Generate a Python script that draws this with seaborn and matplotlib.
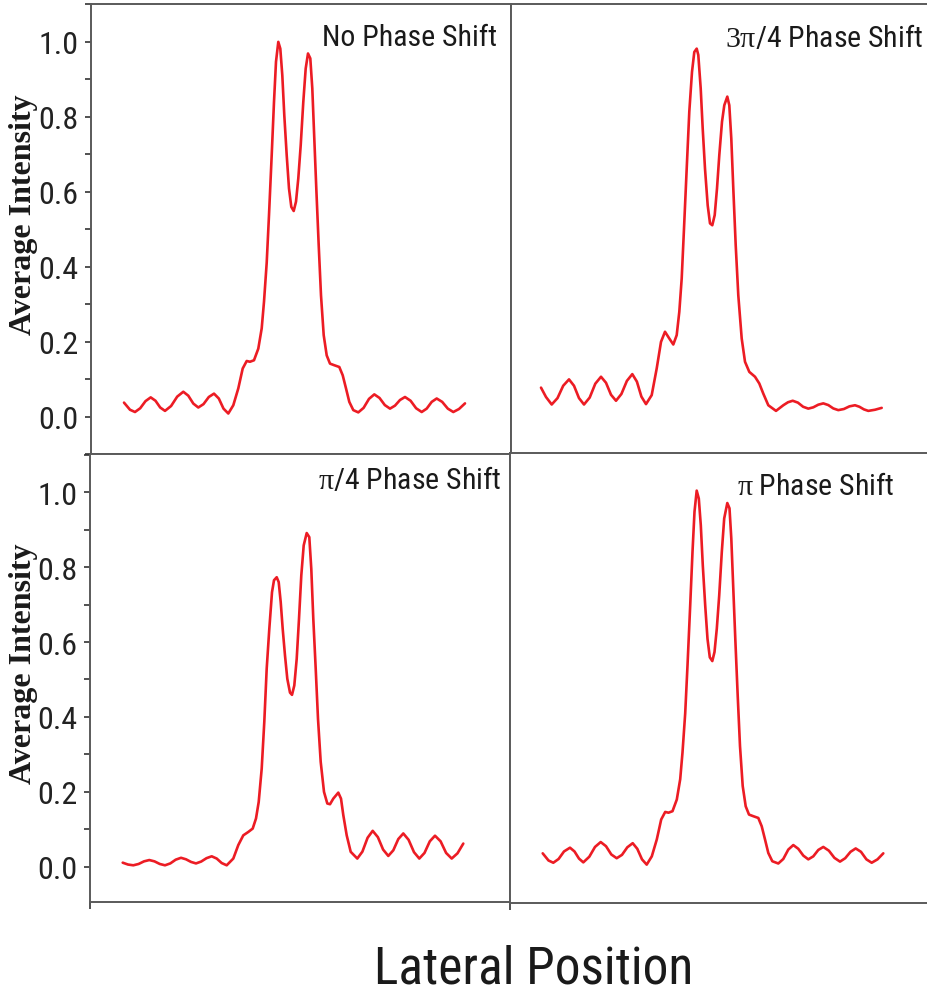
import matplotlib
matplotlib.use("Agg")
import matplotlib.pyplot as plt
from matplotlib import font_manager
from matplotlib.ticker import FixedLocator, FormatStrFormatter
import seaborn as sns
import pandas as pd

# ---------------- data ----------------
no_shift_x = [33, 39, 44, 49.2, 54.5, 59.7, 64.5, 69.2, 74, 80.1, 86.2, 92.3, 97.3, 102.3, 107.3,
              112.5, 117.8, 123, 127.8, 132.5, 137.3, 142.3, 147.3, 151.7, 155.7, 159, 163, 167.3,
              170.7, 173, 175.7, 178, 180.7, 183, 185, 187.3, 189.3, 191.3, 193.3, 195.7, 198, 200.3,
              202.7, 205, 207.3, 209.7, 212.3, 214.7, 217, 219.3, 221.3, 223.3, 225.3, 227.7, 230,
              232.7, 235.7, 239, 243, 248.3, 251.7, 255, 258.3, 262.3, 267.3, 272.6, 278, 283.3,
              288.5, 293.8, 299, 304, 309, 314, 319.6, 325.1, 330.7, 335.7, 340.7, 345.7, 351.2,
              356.8, 362.3, 368, 374]
no_shift_y = [0.037, 0.018, 0.012, 0.022, 0.041, 0.051, 0.042, 0.024, 0.015, 0.028, 0.053, 0.066,
              0.0555, 0.0345, 0.024, 0.033, 0.052, 0.061, 0.048, 0.021, 0.008, 0.030, 0.075, 0.128,
              0.148, 0.146, 0.150, 0.181, 0.235, 0.306, 0.41, 0.537, 0.697, 0.839, 0.946, 0.999,
              0.981, 0.910, 0.803, 0.697, 0.608, 0.559, 0.548, 0.573, 0.635, 0.723, 0.839, 0.928,
              0.968, 0.955, 0.875, 0.741, 0.608, 0.457, 0.323, 0.217, 0.163, 0.141, 0.137, 0.132,
              0.110, 0.075, 0.039, 0.017, 0.011, 0.023, 0.047, 0.059, 0.0495, 0.0305, 0.021, 0.029,
              0.044, 0.052, 0.042, 0.022, 0.012, 0.021, 0.039, 0.048, 0.039, 0.021, 0.012, 0.020,
              0.035]

three_quarter_x = [29.5, 34.5, 40.2, 46, 51.7, 57.5, 62.5, 67.5, 72.5, 78.2, 83.8, 89.5, 94.5, 99.5,
                   104.5, 109.9, 115.4, 120.8, 125.4, 129.9, 134.5, 140.2, 145.2, 149.5, 153.5,
                   157.8, 161.8, 165.2, 167.8, 170.2, 172.5, 175.2, 177.8, 180.5, 182.8, 185.2,
                   186.8, 189.2, 191.2, 193.5, 196.2, 198.5, 200.8, 203.2, 205.5, 207.8, 210.5,
                   212.8, 215.8, 217.8, 219.8, 221.8, 224.2, 226.8, 230.2, 233.5, 237.8, 243.5,
                   247.8, 251.8, 256.8, 264.5, 271.8, 276.5, 281.2, 286.4, 291.6, 296.8, 301.8,
                   306.8, 311.8, 316.8, 321.8, 326.8, 332.4, 337.9, 343.5, 347.9, 352.4, 356.8,
                   363.5, 370.2]
three_quarter_y = [0.077, 0.052, 0.032, 0.049, 0.082, 0.099, 0.082, 0.049, 0.032, 0.0505, 0.0875,
                   0.106, 0.090, 0.058, 0.042, 0.060, 0.095, 0.113, 0.093, 0.053, 0.033, 0.057,
                   0.128, 0.199, 0.226, 0.208, 0.192, 0.217, 0.279, 0.368, 0.501, 0.661, 0.813,
                   0.919, 0.972, 0.981, 0.964, 0.875, 0.768, 0.661, 0.563, 0.515, 0.510, 0.537,
                   0.608, 0.697, 0.786, 0.830, 0.853, 0.830, 0.741, 0.608, 0.457, 0.323, 0.208,
                   0.146, 0.119, 0.106, 0.088, 0.061, 0.030, 0.015, 0.030, 0.038, 0.042, 0.037,
                   0.026, 0.021, 0.0245, 0.0315, 0.035, 0.0305, 0.0215, 0.017, 0.020, 0.027, 0.030,
                   0.026, 0.019, 0.015, 0.018, 0.023]

quarter_x = [32.7, 38, 43.3, 48.6, 54, 59.3, 64.5, 69.8, 75, 80.3, 85.7, 91, 96, 101, 106, 111.2,
             116.5, 121.7, 126.7, 131.7, 136.7, 143.3, 148.3, 153.3, 158.3, 162.7, 166, 168.7,
             171.7, 174.3, 176.7, 179.3, 182, 184, 186.7, 188.7, 190.7, 192.7, 195, 197.3, 200,
             202, 204.3, 206.7, 209, 211.3, 213.7, 216.7, 219.3, 221.3, 223.3, 225.7, 228, 230.7,
             234, 237.3, 240, 243.3, 248.3, 251, 253.3, 256.7, 260.7, 267.3, 272.4, 277.6, 282.7,
             287.9, 293.1, 298.3, 303.3, 308.3, 313.3, 318.6, 324, 329.3, 334.5, 339.8, 345,
             350.6, 356.1, 361.7, 367.5, 373.3]
quarter_y = [0.011, 0.006, 0.004, 0.0075, 0.0145, 0.018, 0.0145, 0.0075, 0.004, 0.009, 0.019, 0.024,
             0.020, 0.013, 0.009, 0.014, 0.023, 0.028, 0.022, 0.010, 0.004, 0.022, 0.058, 0.084,
             0.093, 0.102, 0.129, 0.173, 0.262, 0.387, 0.529, 0.635, 0.733, 0.765, 0.773, 0.760,
             0.707, 0.635, 0.564, 0.502, 0.465, 0.459, 0.484, 0.555, 0.662, 0.778, 0.858, 0.891,
             0.880, 0.795, 0.662, 0.529, 0.395, 0.280, 0.200, 0.169, 0.167, 0.182, 0.198, 0.182,
             0.138, 0.084, 0.040, 0.022, 0.0405, 0.0775, 0.096, 0.079, 0.046, 0.029, 0.044, 0.074,
             0.089, 0.072, 0.039, 0.022, 0.037, 0.068, 0.083, 0.068, 0.037, 0.022, 0.036, 0.062]

pi_x = [32.7, 38.5, 43.3, 48.6, 54, 60, 64.5, 69, 73.3, 79.3, 85, 90.7, 96, 101.3, 106.7, 112,
        117.3, 122.7, 127.3, 132, 136.7, 141.8, 146.8, 151.2, 155.2, 158.5, 162.5, 166.8, 170.2,
        172.5, 175.2, 177.5, 180.2, 182.5, 184.5, 186.7, 188.8, 190.8, 192.8, 195.2, 197.5,
        199.8, 202.3, 204.5, 206.8, 209.2, 211.8, 214.2, 217.3, 219.5, 221.3, 223.3, 225.3,
        227.7, 230, 232.7, 235.7, 239, 243, 248.3, 251.7, 255, 258.3, 262.3, 268.3, 273.3,
        278.3, 283.3, 288.3, 293.3, 298.3, 303.3, 308.3, 313.3, 318.9, 324.4, 330, 335.2, 340.5,
        345.7, 351, 356.4, 361.7, 367.5, 373.3]
pi_y = [0.038, 0.019, 0.013, 0.023, 0.043, 0.053, 0.043, 0.024, 0.014, 0.029, 0.055, 0.068, 0.057,
        0.035, 0.025, 0.034, 0.054, 0.065, 0.050, 0.022, 0.008, 0.030, 0.075, 0.128, 0.148, 0.146,
        0.150, 0.181, 0.235, 0.306, 0.41, 0.537, 0.697, 0.839, 0.946, 1.002, 0.981, 0.910, 0.803,
        0.697, 0.608, 0.559, 0.549, 0.573, 0.635, 0.723, 0.839, 0.928, 0.969, 0.955, 0.875, 0.741,
        0.608, 0.457, 0.323, 0.217, 0.163, 0.141, 0.137, 0.132, 0.110, 0.075, 0.039, 0.017,
        0.011, 0.023, 0.048, 0.060, 0.050, 0.032, 0.022, 0.030, 0.047, 0.055, 0.045, 0.026, 0.016,
        0.025, 0.042, 0.051, 0.042, 0.022, 0.013, 0.022, 0.038]

panel_titles = ["No Phase Shift", r"$\mathrm{3\pi}$/4 Phase Shift",
                r"$\mathrm{\pi}$/4 Phase Shift", r"$\mathrm{\pi}$ Phase Shift"]
y_tick_values = [0.0, 0.2, 0.4, 0.6, 0.8, 1.0]
y_minor_values = [-0.1, 0.1, 0.3, 0.5, 0.7, 0.9, 1.1]
y_label = "Average Intensity"
x_label = "Lateral Position"

# ---------------- fonts / theme ----------------
sns.set_theme(style="white")
names = {f.name for f in font_manager.fontManager.ttflist}
if "Liberation Sans Narrow" in names:
    NARROW = "Liberation Sans Narrow"
elif "Roboto Condensed" in names:
    NARROW = "Roboto Condensed"
else:
    NARROW = "Liberation Sans"
plt.rcParams["font.family"] = [NARROW, "DejaVu Sans"]
plt.rcParams["mathtext.fontset"] = "custom"
plt.rcParams["mathtext.rm"] = "Liberation Serif"
plt.rcParams["mathtext.it"] = "Liberation Serif:italic"

RED = "#ec1c24"
SPINE = "#5a5a5a"
W, H = 928, 995
fig = plt.figure(figsize=(W / 100, H / 100), dpi=100)
fig.patch.set_facecolor("white")


def box(l, t, r, b):
    return [l / W, 1 - b / H, (r - l) / W, (b - t) / H]


panels = [
    dict(rect=box(91, 5, 511, 455), x=no_shift_x, y=no_shift_y, xmax=420, ylim=(-0.1, 1.1),
         labels=True, right=True, bottom_tick=False, title=panel_titles[0], tpos=(0.967, 0.909)),
    dict(rect=box(511.5, 5, 928, 455), x=three_quarter_x, y=three_quarter_y, xmax=416.5,
         ylim=(-0.1, 1.1), labels=False, right=False, bottom_tick=False, title=panel_titles[1],
         tpos=(0.988, 0.907)),
    dict(rect=box(90, 455, 510, 903), x=quarter_x, y=quarter_y, xmax=420, ylim=(-0.094, 1.102),
         labels=True, right=True, bottom_tick=True, title=panel_titles[2], tpos=(0.980, 0.924)),
    dict(rect=box(510, 454, 928, 904), x=pi_x, y=pi_y, xmax=418, ylim=(-0.094, 1.102),
         labels=False, right=False, bottom_tick=True, title=panel_titles[3], tpos=(0.921, 0.909)),
]

for p in panels:
    ax = fig.add_axes(p["rect"])
    df = pd.DataFrame({"pos": p["x"], "val": p["y"]})
    sns.lineplot(data=df, x="pos", y="val", ax=ax, color=RED, linewidth=1.9, sort=False,
                 solid_joinstyle="round", solid_capstyle="round")
    ax.set_xlim(0, p["xmax"])
    ax.set_ylim(*p["ylim"])
    ax.set_xlabel("")
    ax.set_ylabel("")
    for side in ["left", "right", "top", "bottom"]:
        ax.spines[side].set_color(SPINE)
        ax.spines[side].set_linewidth(1.4)
    ax.spines["right"].set_visible(p["right"])
    if p["labels"]:
        ax.yaxis.set_major_locator(FixedLocator(y_tick_values))
        ax.yaxis.set_minor_locator(FixedLocator(y_minor_values))
        ax.yaxis.set_major_formatter(FormatStrFormatter("%.1f"))
        ax.tick_params(axis="y", which="both", left=True, direction="out", length=4,
                       width=1.2, color="#333333", labelsize=23, pad=5, labelcolor="#222222")
    else:
        ax.set_yticks([])
    if p["bottom_tick"]:
        ax.set_xticks([0])
        ax.set_xticklabels([""])
        ax.tick_params(axis="x", bottom=True, direction="out", length=5, width=1.2,
                       color="#333333")
    else:
        ax.set_xticks([])
    ax.text(p["tpos"][0], p["tpos"][1], p["title"], transform=ax.transAxes, ha="right",
            va="baseline", fontsize=21.5, color="#1a1a1a")

for yc in (215, 664):
    fig.text(24 / W, 1 - yc / H, y_label, rotation=90, ha="center", va="center",
             family=["Liberation Serif", "DejaVu Serif"], weight="bold", fontsize=23,
             color="#1a1a1a")

fig.text(534 / W, 1 - 984 / H, x_label, ha="center", va="baseline", fontsize=37,
         color="#1a1a1a")

fig.savefig("out.png", dpi=100, facecolor="white")
